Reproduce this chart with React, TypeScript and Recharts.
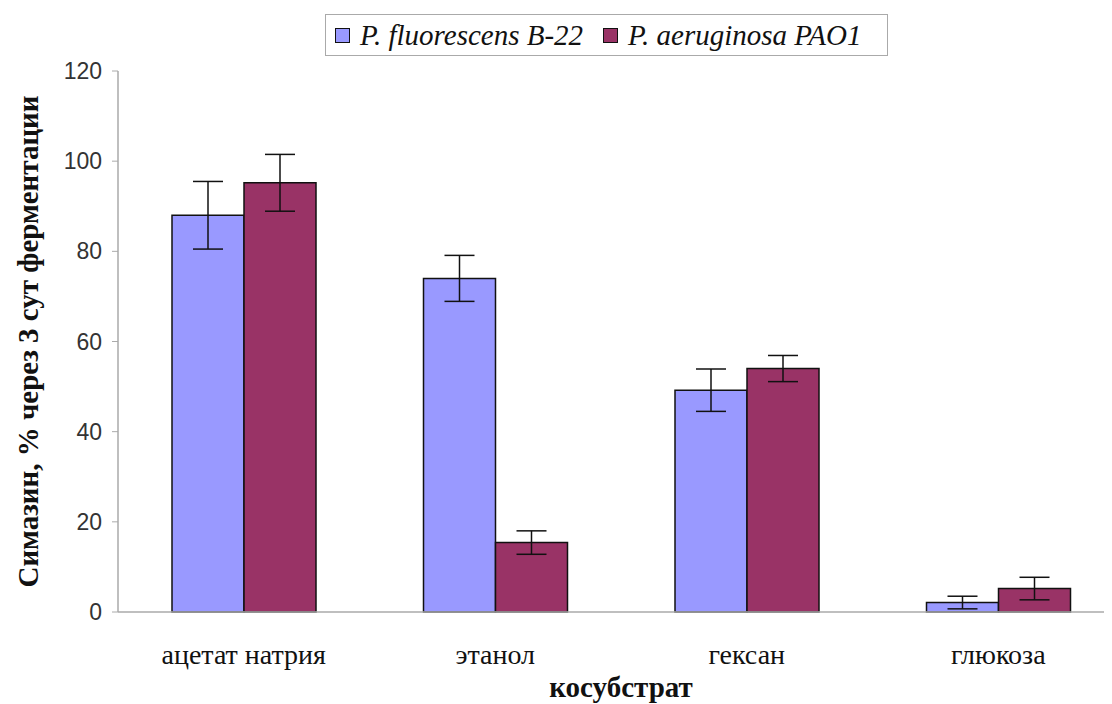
import React from 'react';
import { BarChart, Bar, XAxis, YAxis, ErrorBar, Label } from 'recharts';

const categories = ['ацетат натрия', 'этанол', 'гексан', 'глюкоза'];
const fluorescens = [88, 74, 49.2, 2.1];
const fluorescensErr = [7.5, 5.1, 4.7, 1.4];
const aeruginosa = [95.2, 15.4, 54, 5.2];
const aeruginosaErr = [6.3, 2.6, 2.9, 2.5];
const yTicks = [0, 20, 40, 60, 80, 100, 120];
const seriesNames = ['P. fluorescens B-22', 'P. aeruginosa PAO1'];
const colors = ['#9999FF', '#993366'];

const data = categories.map((name, i) => ({
  name,
  a: fluorescens[i],
  aErr: fluorescensErr[i],
  b: aeruginosa[i],
  bErr: aeruginosaErr[i],
}));

const serif = 'Liberation Serif, DejaVu Serif, serif';
const sans = 'Liberation Sans, Arial, sans-serif';

export default function App() {
  return (
    <div style={{ position: 'relative', width: 1104, height: 696, overflow: 'hidden', background: '#fff' }}>
      <BarChart
        width={1124}
        height={696}
        data={data}
        margin={{ top: 63, right: 8, left: 30, bottom: 32 }}
        barSize={72}
        barGap={0}
      >
        <XAxis
          xAxisId="num"
          type="number"
          domain={[0, 4]}
          ticks={[0, 1, 2, 3, 4]}
          axisLine={false}
          tickLine={{ stroke: '#999', strokeWidth: 1 }}
          tickSize={6}
          tickFormatter={() => ''}
          height={0}
          allowDataOverflow
        />
        <XAxis
          xAxisId="cat"
          dataKey="name"
          axisLine={{ stroke: '#aaa', strokeWidth: 1.5 }}
          tickLine={false}
          tick={{ fontFamily: serif, fontSize: 28, fill: '#111' }}
          tickMargin={26}
          height={60}
          interval={0}
        >
          <Label
            content={({ viewBox }: any) => (
              <text
                x={viewBox.x + viewBox.width / 2}
                y={viewBox.y + 85}
                textAnchor="middle"
                style={{ fontFamily: serif }}
                fontWeight="bold"
                fontSize={29}
                fill="#111"
              >
                косубстрат
              </text>
            )}
          />
        </XAxis>
        <YAxis
          domain={[0, 120]}
          ticks={yTicks}
          width={80}
          axisLine={{ stroke: '#aaa', strokeWidth: 1.5 }}
          tickLine={{ stroke: '#aaa', strokeWidth: 1 }}
          tickSize={6}
          tickMargin={10}
          tick={{ fontFamily: sans, fontSize: 23, fill: '#333' }}
        >
          <Label
            content={({ viewBox }: any) => {
              const cx = 20;
              const cy = viewBox.y + viewBox.height / 2;
              return (
                <text
                  x={cx}
                  y={cy}
                  transform={`rotate(-90 ${cx} ${cy})`}
                  textAnchor="middle"
                  dominantBaseline="central"
                  style={{ fontFamily: serif }}
                  fontWeight="bold"
                  fontSize={29}
                  fill="#111"
                >
                  Симазин, % через 3 сут ферментации
                </text>
              );
            }}
          />
        </YAxis>
        <Bar xAxisId="cat" dataKey="a" name={seriesNames[0]} fill={colors[0]} stroke="#111" strokeWidth={1.5} isAnimationActive={false}>
          <ErrorBar dataKey="aErr" width={15} stroke="#111" strokeWidth={1.5} isAnimationActive={false} />
        </Bar>
        <Bar xAxisId="cat" dataKey="b" name={seriesNames[1]} fill={colors[1]} stroke="#111" strokeWidth={1.5} isAnimationActive={false}>
          <ErrorBar dataKey="bErr" width={15} stroke="#111" strokeWidth={1.5} isAnimationActive={false} />
        </Bar>
      </BarChart>
      <div
        style={{
          position: 'absolute',
          left: 317,
          top: 6,
          width: 563,
          height: 42,
          boxSizing: 'border-box',
          border: '1.5px solid #aaa',
          display: 'flex',
          alignItems: 'center',
          justifyContent: 'flex-start',
          paddingLeft: 9,
          gap: 20,
          fontFamily: serif,
          fontStyle: 'italic',
          fontSize: 29,
          color: '#111',
          whiteSpace: 'nowrap',
        }}
      >
        {seriesNames.map((n, i) => (
          <div key={n} style={{ display: 'flex', alignItems: 'center' }}>
            <span
              style={{
                display: 'inline-block',
                width: 13,
                height: 13,
                background: colors[i],
                border: '1.5px solid #111',
                marginRight: 10,
              }}
            />
            <span>{n}</span>
          </div>
        ))}
      </div>
    </div>
  );
}
